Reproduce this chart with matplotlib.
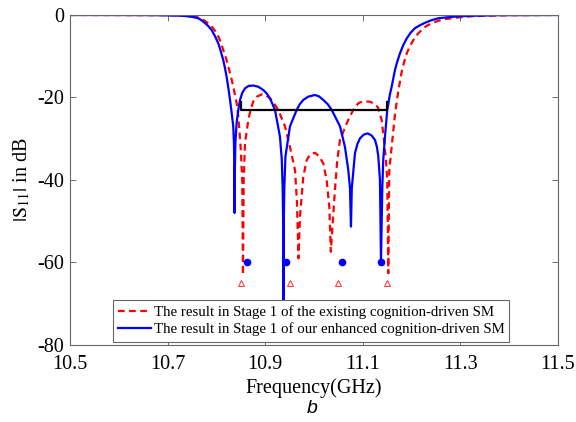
import matplotlib
matplotlib.use("Agg")
import matplotlib.pyplot as plt

plt.rcParams['font.family'] = ['Liberation Serif', 'DejaVu Serif']
plt.rcParams['mathtext.fontset'] = 'stix'
plt.rcParams['axes.unicode_minus'] = False

# values
freq_enh = [10.500, 10.600, 10.680, 10.720, 10.736, 10.750, 10.763, 10.770, 10.777, 10.7835,
            10.790, 10.797, 10.804, 10.809, 10.814, 10.8175, 10.821, 10.8245, 10.828, 10.8314,
            10.8346, 10.836, 10.8368, 10.8372, 10.8378, 10.839, 10.8416, 10.845, 10.8484, 10.853,
            10.8586, 10.866, 10.8756, 10.886, 10.8961, 10.903, 10.9098, 10.9201, 10.9303, 10.934,
            10.9358, 10.9368, 10.9375, 10.9382, 10.9392, 10.9415, 10.9508, 10.9646, 10.971, 10.9781,
            10.988, 11.0020, 11.010, 11.0191, 11.028, 11.0363, 11.0533, 11.0635, 11.0703, 11.0738,
            11.0758, 11.0775, 11.0840, 11.089, 11.0943, 11.102, 11.1100, 11.118, 11.1250, 11.129,
            11.1318, 11.1352, 11.1373, 11.1400, 11.1420, 11.1455, 11.1502, 11.1557, 11.1592, 11.1660,
            11.171, 11.1762, 11.183, 11.1900, 11.198, 11.2070, 11.217, 11.2275, 11.240, 11.2547,
            11.270, 11.2889, 11.3200, 11.3800, 11.5000]
s11_enh = [0.0, 0.0, -0.05, -0.15, -0.25, -0.45, -0.8, -1.3, -2.0, -2.7,
           -3.6, -5.1, -6.9, -8.8, -10.9, -12.8, -15.0, -17.7, -20.6, -23.8,
           -27.0, -31.0, -37.0, -48.0, -38.0, -31.0, -26.0, -23.0, -20.6, -18.9,
           -17.8, -17.2, -17.1, -17.4, -18.2, -19.0, -20.2, -23.0, -29.5, -35.0,
           -42.0, -50.0, -78.0, -50.0, -42.0, -34.3, -27.0, -23.0, -21.6, -20.6,
           -19.8, -19.4, -19.7, -20.6, -21.6, -23.0, -27.0, -32.0, -37.6, -42.0,
           -51.3, -42.0, -33.5, -31.3, -29.9, -29.0, -28.7, -29.2, -30.3, -32.0,
           -34.3, -40.0, -60.0, -42.0, -35.0, -29.5, -23.0, -19.2, -17.4, -13.3,
           -11.2, -9.3, -7.3, -5.7, -4.3, -3.2, -2.5, -1.9, -1.3, -0.8,
           -0.6, -0.4, -0.2, -0.05, 0.0]

freq_exist = [10.500, 10.700, 10.740, 10.760, 10.772, 10.7834, 10.792, 10.8006, 10.808, 10.8141,
              10.820, 10.8244, 10.830, 10.8346, 10.838, 10.8416, 10.8449, 10.8497, 10.8530, 10.8545,
              10.8560, 10.8586, 10.8654, 10.870, 10.8756, 10.883, 10.8941, 10.902, 10.9098, 10.918,
              10.9268, 10.9406, 10.9508, 10.9611, 10.9650, 10.9683, 10.9713, 10.9781, 10.9850, 10.992,
              11.0020, 11.011, 11.0191, 11.0260, 11.0314, 11.0345, 11.0383, 11.0430, 11.0477, 11.0533,
              11.0670, 11.072, 11.0805, 11.0908, 11.099, 11.1066, 11.114, 11.1215, 11.127, 11.1318,
              11.1387, 11.1434, 11.1475, 11.1502, 11.1523, 11.1543, 11.1592, 11.1660, 11.1727, 11.1797,
              11.185, 11.1900, 11.197, 11.2035, 11.212, 11.2207, 11.230, 11.2412, 11.255, 11.2684,
              11.2992, 11.3300, 11.4000, 11.5000]
s11_exist = [0.0, -0.05, -0.2, -0.5, -1.1, -2.0, -3.0, -4.4, -6.3, -8.5,
             -10.6, -12.5, -15.0, -17.4, -19.3, -21.4, -24.6, -32.0, -40.0, -63.0,
             -40.0, -31.1, -25.5, -23.0, -21.0, -19.8, -19.2, -19.5, -20.2, -21.4,
             -23.0, -27.0, -32.0, -37.6, -45.0, -59.0, -48.9, -39.2, -35.2, -33.8,
             -33.4, -34.3, -36.0, -40.0, -46.5, -57.4, -50.5, -42.4, -35.2, -30.3,
             -26.3, -25.0, -23.0, -21.4, -21.0, -21.0, -21.0, -21.4, -21.8, -22.6,
             -25.5, -30.3, -35.2, -40.0, -62.6, -37.6, -32.0, -24.0, -18.5, -13.8,
             -11.3, -9.3, -7.5, -6.1, -4.7, -3.6, -2.7, -2.0, -1.4, -1.0,
             -0.55, -0.25, -0.05, 0.0]

# target markers
dot_freq = [10.862, 10.942, 11.058, 11.138]
dot_s11 = [-60, -60, -60, -60]
tri_freq = [10.850, 10.950, 11.050, 11.150]
tri_s11 = [-65, -65, -65, -65]

# specification bracket
spec_freq = [10.85, 10.85, 11.15, 11.15]
spec_s11 = [-21, -23, -23, -21]

legend_labels = ['The result in Stage 1 of the existing cognition-driven SM',
                 'The result in Stage 1 of our enhanced cognition-driven SM']

fig = plt.figure(figsize=(5.76, 4.22), dpi=100)
ax = fig.add_axes([0.1215, 0.1825, 0.8472, 0.782])

l1, = ax.plot(freq_exist, s11_exist, color='#ff0000', linestyle=(0, (3, 2)), linewidth=1.6,
              label=legend_labels[0])
l2, = ax.plot(freq_enh, s11_enh, color='#0000ff', linewidth=1.6, label=legend_labels[1])
ax.plot(spec_freq, spec_s11, color='black', linewidth=1.6)
ax.plot(dot_freq, dot_s11, 'o', color='#0000ff', markersize=4.5, linestyle='none')
ax.plot(tri_freq, tri_s11, '^', markerfacecolor='none', markeredgecolor='#ff4040',
        markersize=5, markeredgewidth=0.8, linestyle='none')

ax.set_xlim(10.5, 11.5)
ax.set_ylim(-80, 0)
ax.set_xticks([10.5, 10.7, 10.9, 11.1, 11.3, 11.5])
ax.set_xticklabels(['10.5', '10.7', '10.9', '11.1', '11.3', '11.5'])
ax.set_yticks([0, -20, -40, -60, -80])
ax.tick_params(direction='in', length=4, width=0.6, color='#555555', labelsize=14.5,
               top=True, right=True)
ax.tick_params(axis='x', pad=7)
ax.tick_params(axis='y', pad=4)
for sp in ax.spines.values():
    sp.set_color('#666666')
    sp.set_linewidth(0.8)

ax.set_xlabel('Frequency(GHz)', fontsize=14.5, labelpad=3)
ax.set_ylabel(r'$|\mathrm{S}_{11}|$ in dB', fontsize=14.5, labelpad=4)

leg = ax.legend(handles=[l1, l2], loc='lower center', bbox_to_anchor=(0.494, 0.01),
                borderaxespad=0, fontsize=10.7, handlelength=2.2, handletextpad=0.2,
                fancybox=False, framealpha=1, edgecolor='#666666', borderpad=0.35,
                labelspacing=0.25)
leg.get_frame().set_linewidth(0.8)
leg.set_zorder(5)

fig.text(0.542, 0.031, 'b', fontsize=14, style='italic', family='Liberation Sans',
         ha='center', va='center')

fig.savefig('out.png', dpi=100)
